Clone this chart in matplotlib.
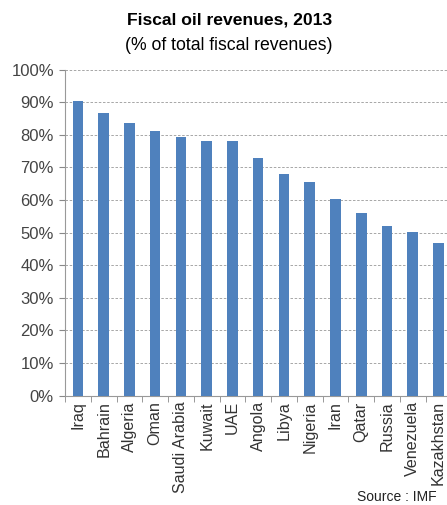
import matplotlib.pyplot as plt
from matplotlib.ticker import FixedLocator, PercentFormatter

plt.rcParams['font.family'] = ['Liberation Sans', 'DejaVu Sans']

countries = ['Iraq', 'Bahrain', 'Algeria', 'Oman', 'Saudi Arabia', 'Kuwait', 'UAE',
             'Angola', 'Libya', 'Nigeria', 'Iran', 'Qatar', 'Russia', 'Venezuela',
             'Kazakhstan']
oil_share = [90.2, 86.8, 83.6, 81.1, 79.4, 78.2, 78.2, 73.0, 68.0, 65.5, 60.2,
             56.1, 52.1, 50.1, 46.7]

W, H = 447, 505
fig = plt.figure(figsize=(W / 100, H / 100), dpi=100)

# axes runs a little past the right edge of the figure
left, right = 65, 451.4
top, bottom = 69.5, 395.7
ax = fig.add_axes([left / W, 1 - bottom / H, (right - left) / W, (bottom - top) / H])

x = range(len(countries))
ax.bar(x, oil_share, width=0.41, color='#4F81BD', zorder=3)

ax.set_xlim(-0.5, len(countries) - 0.5)
ax.set_ylim(0, 100)
ax.set_yticks(range(0, 101, 10))
ax.yaxis.set_major_formatter(PercentFormatter(decimals=0))
ax.yaxis.grid(True, linestyle=(0, (3, 2)), color='#999999', linewidth=0.6, zorder=0)

ax.set_xticks(list(x))
ax.set_xticklabels(countries, rotation=90, fontsize=11.6, color='#333333')
ax.xaxis.set_minor_locator(FixedLocator([i - 0.5 for i in range(len(countries) + 1)]))
ax.tick_params(axis='x', which='major', length=0, pad=4)
ax.tick_params(axis='x', which='minor', length=4, color='#888888', direction='out')
ax.tick_params(axis='y', length=4, color='#888888', labelsize=12,
               labelcolor='#444444', pad=4)

for side in ['top', 'right']:
    ax.spines[side].set_visible(False)
for side in ['left', 'bottom']:
    ax.spines[side].set_color('#999999')
    ax.spines[side].set_linewidth(0.8)

fig.text(230 / W, 1 - 20 / H, 'Fiscal oil revenues, 2013', ha='center', va='center',
         fontsize=12.6, fontweight='bold')
fig.text(229 / W, 1 - 45 / H, '(% of total fiscal revenues)', ha='center', va='center',
         fontsize=12.7)
fig.text(437 / W, 1 - 497 / H, 'Source : IMF', ha='right', va='center', fontsize=10,
         color='#222222')

fig.savefig('out.png', dpi=100)
